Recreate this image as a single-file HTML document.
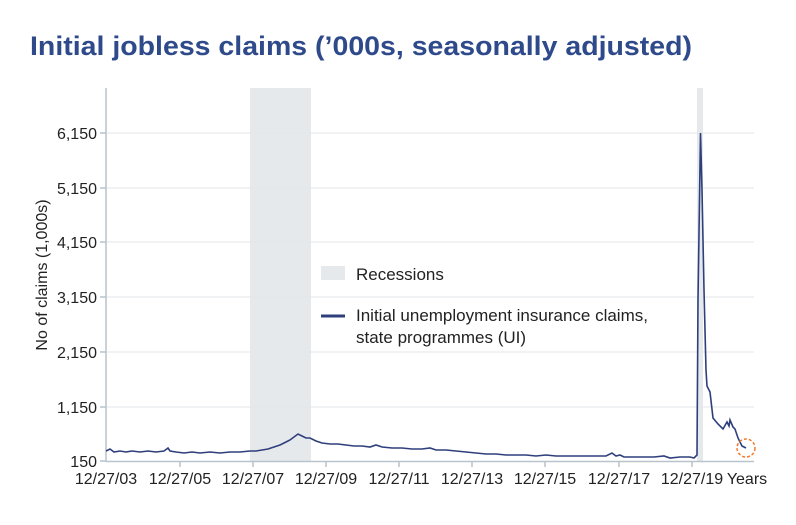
<!DOCTYPE html>
<html><head><meta charset="utf-8"><style>
body{margin:0;background:#fff;width:796px;height:520px;overflow:hidden;font-family:"Liberation Sans",sans-serif}
</style></head><body>
<svg width="796" height="520" xmlns="http://www.w3.org/2000/svg" font-family="Liberation Sans, sans-serif">
<text x="30" y="55" font-size="27" font-weight="bold" fill="#2e4a8a" textLength="662" lengthAdjust="spacingAndGlyphs">Initial jobless claims (’000s, seasonally adjusted)</text>
<rect x="250" y="88" width="61" height="373" fill="#e6e9ec"/>
<rect x="697" y="88" width="6" height="373" fill="#e6e9ec"/>
<g stroke="#e3e6e9" stroke-width="1">
<line x1="106" x2="754" y1="133" y2="133"/><line x1="106" x2="754" y1="188" y2="188"/>
<line x1="106" x2="754" y1="242" y2="242"/><line x1="106" x2="754" y1="297" y2="297"/>
<line x1="106" x2="754" y1="352" y2="352"/><line x1="106" x2="754" y1="407" y2="407"/>
</g>
<g stroke="#b9c3cc" stroke-width="1.5">
<line x1="106" y1="88" x2="106" y2="462"/><line x1="106" y1="461.5" x2="754" y2="461.5"/>
<line x1="100" x2="106" y1="133" y2="133"/><line x1="100" x2="106" y1="188" y2="188"/><line x1="100" x2="106" y1="242" y2="242"/><line x1="100" x2="106" y1="297" y2="297"/><line x1="100" x2="106" y1="352" y2="352"/><line x1="100" x2="106" y1="407" y2="407"/><line x1="100" x2="106" y1="461" y2="461"/>
<line x1="180" x2="180" y1="461" y2="467"/><line x1="253" x2="253" y1="461" y2="467"/><line x1="326" x2="326" y1="461" y2="467"/><line x1="399" x2="399" y1="461" y2="467"/><line x1="472" x2="472" y1="461" y2="467"/><line x1="545" x2="545" y1="461" y2="467"/><line x1="619" x2="619" y1="461" y2="467"/><line x1="692" x2="692" y1="461" y2="467"/>
</g>
<g font-size="16" fill="#222" text-anchor="end">
<text x="97" y="139">6,150</text><text x="97" y="194">5,150</text><text x="97" y="248">4,150</text><text x="97" y="303">3,150</text><text x="97" y="358">2,150</text><text x="97" y="413">1,150</text><text x="97" y="467">150</text>
</g>
<g font-size="16" fill="#222" text-anchor="middle">
<text x="106" y="484">12/27/03</text><text x="180" y="484">12/27/05</text><text x="253" y="484">12/27/07</text><text x="326" y="484">12/27/09</text><text x="399" y="484">12/27/11</text><text x="472" y="484">12/27/13</text><text x="545" y="484">12/27/15</text><text x="619" y="484">12/27/17</text><text x="692" y="484">12/27/19</text><text x="747" y="484">Years</text>
</g>
<text transform="translate(47,275) rotate(-90)" font-size="16" fill="#222" text-anchor="middle">No of claims (1,000s)</text>
<rect x="321" y="266" width="24" height="14" fill="#e6e9ec"/>
<text x="356" y="280" font-size="17" fill="#222">Recessions</text>
<line x1="321" y1="316" x2="345" y2="316" stroke="#2e3f7c" stroke-width="3"/>
<text x="356" y="321" font-size="17" fill="#222">Initial unemployment insurance claims,</text>
<text x="356" y="343" font-size="17" fill="#222">state programmes (UI)</text>
<polyline fill="none" stroke="#2e3f7c" stroke-width="1.6" points="106,451 110,449 114,452 120,451 126,452 132,451 140,452 148,451 156,452 164,451 168,448 170,451 176,452 184,453 192,452 200,453 210,452 220,453 230,452 240,452 250,451 256,451 262,450 268,449 274,447 280,445 286,442 290,440 294,437 298,434 302,436 306,438 310,438 316,441 322,443 330,444 338,444 346,445 354,446 362,446 370,447 376,445 382,447 392,448 402,448 412,449 422,449 430,448 436,450 446,450 456,451 466,452 476,453 486,454 496,454 506,455 516,455 526,455 536,456 546,455 556,456 566,456 576,456 586,456 596,456 606,456 612,453 616,456 620,455 624,457 634,457 644,457 654,457 664,456 670,458 680,457 690,457 694,458 697,455 698,300 700.5,133 702,190 704,290 706,370 707,386 710,392 713,418 718,424 723,429 727,422 729,426 730,420 733,427 735,429 738,438 742,446 746,448"/>
<circle cx="746" cy="448" r="9" fill="none" stroke="#f07a30" stroke-width="1.5" stroke-dasharray="3,2"/>
</svg>
</body></html>
